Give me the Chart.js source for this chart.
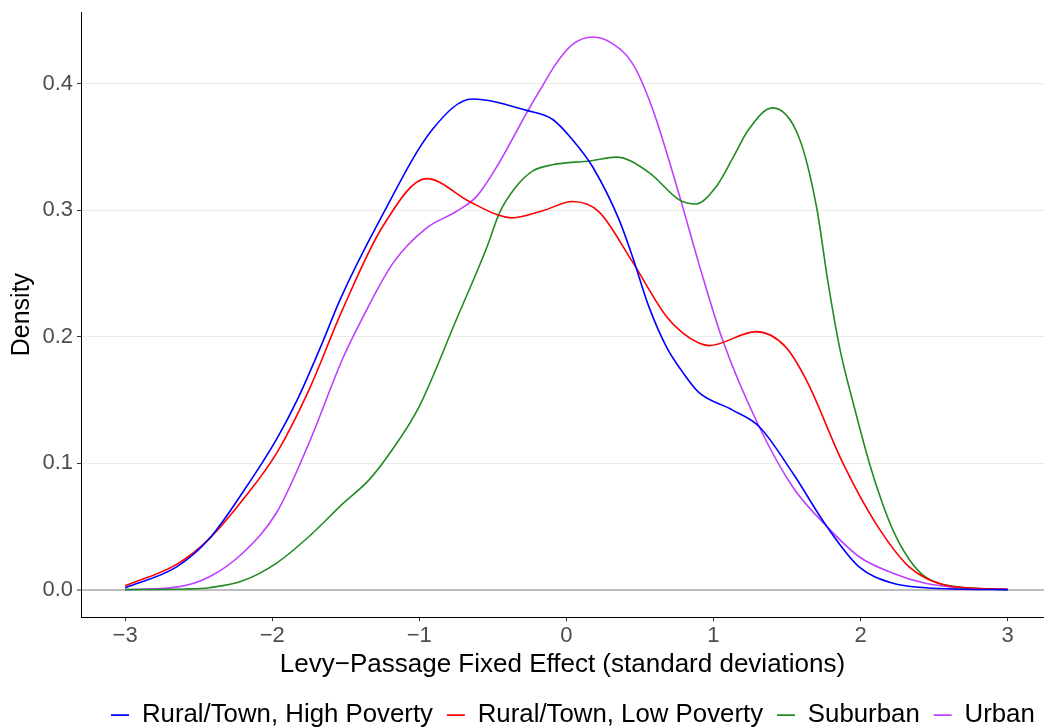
<!DOCTYPE html>
<html>
<head>
<meta charset="utf-8">
<script src="https://cdn.jsdelivr.net/npm/chart.js@4.4.1/dist/chart.umd.min.js"></script>
<style>
  body { margin: 0; background: #fff; overflow: hidden; }
  #wrap { width: 1044px; height: 728px; }
</style>
</head>
<body>
<div id="wrap"><canvas id="densityChart"></canvas></div>
<script>
  // series names
  const seriesNames = ['Rural/Town, High Poverty', 'Rural/Town, Low Poverty', 'Suburban', 'Urban'];

  // Rural/Town, High Poverty
  const highPovX = [-3, -2.65, -2.43, -2.2, -1.97, -1.83, -1.66, -1.54, -1.27, -0.91, -0.64, -0.27, -0.095, 0.04, 0.18, 0.36, 0.45, 0.56, 0.68, 0.79, 0.9, 1.13, 1.31, 1.54, 1.77, 1.99, 2.22, 2.44, 2.7, 3];
  const highPovY = [0.0015, 0.018, 0.040, 0.077, 0.119, 0.150, 0.195, 0.229, 0.292, 0.364, 0.388, 0.379, 0.372, 0.356, 0.334, 0.292, 0.263, 0.224, 0.192, 0.172, 0.156, 0.142, 0.129, 0.092, 0.050, 0.018, 0.005, 0.0015, 0.0003, 0];

  // Rural/Town, Low Poverty
  const lowPovX = [-3, -2.65, -2.43, -2.2, -1.97, -1.75, -1.52, -1.25, -0.95, -0.66, -0.46, -0.37, -0.15, 0.04, 0.22, 0.44, 0.68, 0.79, 0.9, 0.97, 1.29, 1.49, 1.63, 1.88, 2.1, 2.33, 2.56, 2.79, 3];
  const lowPovY = [0.003, 0.020, 0.040, 0.071, 0.108, 0.158, 0.222, 0.287, 0.325, 0.307, 0.296, 0.294, 0.300, 0.307, 0.299, 0.261, 0.216, 0.203, 0.195, 0.193, 0.204, 0.192, 0.166, 0.100, 0.053, 0.018, 0.004, 0.001, 0.0003];

  // Suburban
  const suburbX = [-3, -2.6, -2.43, -2.2, -1.97, -1.75, -1.52, -1.34, -1.2, -1.0, -0.75, -0.54, -0.455, -0.34, -0.23, -0.095, 0.16, 0.34, 0.56, 0.77, 0.88, 1.02, 1.13, 1.24, 1.40, 1.58, 1.70, 1.78, 1.86, 1.96, 2.06, 2.14, 2.22, 2.33, 2.44, 2.67, 3];
  const suburbY = [0, 0.0005, 0.0015, 0.007, 0.021, 0.042, 0.068, 0.087, 0.108, 0.145, 0.213, 0.271, 0.298, 0.319, 0.331, 0.336, 0.339, 0.342, 0.330, 0.308, 0.305, 0.319, 0.341, 0.364, 0.381, 0.358, 0.303, 0.242, 0.190, 0.143, 0.100, 0.071, 0.047, 0.024, 0.010, 0.002, 0];

  // Urban
  const urbanX = [-3, -2.65, -2.43, -2.2, -1.97, -1.75, -1.52, -1.39, -1.18, -0.95, -0.75, -0.61, -0.46, -0.27, -0.18, -0.07, 0.04, 0.18, 0.31, 0.45, 0.58, 0.77, 0.9, 1.06, 1.31, 1.54, 1.77, 1.99, 2.22, 2.44, 2.67, 3];
  const urbanY = [0, 0.002, 0.010, 0.029, 0.061, 0.116, 0.183, 0.214, 0.258, 0.286, 0.299, 0.311, 0.337, 0.377, 0.395, 0.416, 0.431, 0.437, 0.432, 0.416, 0.382, 0.311, 0.258, 0.198, 0.129, 0.081, 0.050, 0.026, 0.013, 0.005, 0.0015, 0];

  // axis ticks
  const xTicks = [-3, -2, -1, 0, 1, 2, 3];
  const yTicks = [0, 0.1, 0.2, 0.3, 0.4];

  const colors = ['#0000FF', '#FF0000', '#228B22', '#BF3EFF'];
  const xs = [highPovX, lowPovX, suburbX, urbanX];
  const ys = [highPovY, lowPovY, suburbY, urbanY];

  const datasets = seriesNames.map((name, i) => ({
    label: name,
    data: xs[i].map((x, j) => ({ x: x, y: ys[i][j] })),
    borderColor: colors[i],
    backgroundColor: colors[i],
    borderWidth: 1.6,
    pointRadius: 0,
    fill: false,
    cubicInterpolationMode: 'monotone'
  }));

  const minus = v => String(v).replace('-', '\u2212');

  // move the legend row so it sits under the panel like the ggplot one
  const legendStart = 111;
  const legendDrop = 10;
  const legendShift = {
    id: 'legendShift',
    afterLayout(chart) {
      const lg = chart.legend;
      if (!lg || !lg.lineWidths) return;
      const pad = lg.options.labels.padding;
      const cur = (lg.left + pad + lg.right - lg.lineWidths[0]) / 2;
      const dx = legendStart - cur;
      lg.left += dx;
      lg.right += dx;
      lg.top += legendDrop;
      lg.bottom += legendDrop;
    }
  };

  new Chart(document.getElementById('densityChart'), {
    type: 'line',
    data: { datasets: datasets },
    plugins: [legendShift],
    options: {
      responsive: true,
      maintainAspectRatio: false,
      animation: false,
      layout: { padding: { top: 12, right: 0, bottom: 0, left: 0 } },
      plugins: {
        tooltip: { enabled: false },
        legend: {
          position: 'bottom',
          labels: {
            usePointStyle: true,
            pointStyle: 'line',
            pointStyleWidth: 18,
            padding: 1,
            color: '#000',
            font: { family: 'Liberation Sans', size: 25.8 },
            generateLabels: chart => {
              const items = Chart.defaults.plugins.legend.labels.generateLabels(chart);
              items.forEach((it, i) => { if (i < items.length - 1) it.text += '\u2002'; });
              return items;
            }
          }
        }
      },
      scales: {
        x: {
          type: 'linear',
          min: -3.3,
          max: 3.247,
          afterBuildTicks: s => { s.ticks = xTicks.map(v => ({ value: v })); },
          afterFit: s => { s.height = 74; s.paddingLeft = 0; s.paddingRight = 0; },
          ticks: {
            color: '#4D4D4D',
            padding: 2,
            font: { family: 'Liberation Sans', size: 22 },
            callback: v => minus(v)
          },
          grid: { drawOnChartArea: false, tickLength: 4, tickColor: '#333333', tickWidth: 1 },
          border: { color: '#000', width: 1 },
          title: {
            display: true,
            text: 'Levy\u2212Passage Fixed Effect (standard deviations)',
            color: '#000',
            padding: { top: 0, bottom: 11 },
            font: { family: 'Liberation Sans', size: 26 }
          }
        },
        y: {
          type: 'linear',
          min: -0.0218,
          max: 0.4568,
          afterBuildTicks: s => { s.ticks = yTicks.map(v => ({ value: v })); },
          afterFit: s => { s.width = 81; s.paddingTop = 0; s.paddingBottom = 0; },
          ticks: {
            color: '#4D4D4D',
            padding: 4,
            font: { family: 'Liberation Sans', size: 22 },
            callback: v => v.toFixed(1)
          },
          grid: {
            color: c => (c.tick && c.tick.value === 0) ? '#BEBEBE' : '#EBEBEB',
            lineWidth: c => (c.tick && c.tick.value === 0) ? 2 : 1,
            tickLength: 4,
            tickColor: '#333333',
            tickWidth: 1
          },
          border: { color: '#000', width: 1 },
          title: {
            display: true,
            text: 'Density',
            color: '#000',
            padding: { top: 7, bottom: 0 },
            font: { family: 'Liberation Sans', size: 25 }
          }
        }
      }
    }
  });
</script>
</body>
</html>
